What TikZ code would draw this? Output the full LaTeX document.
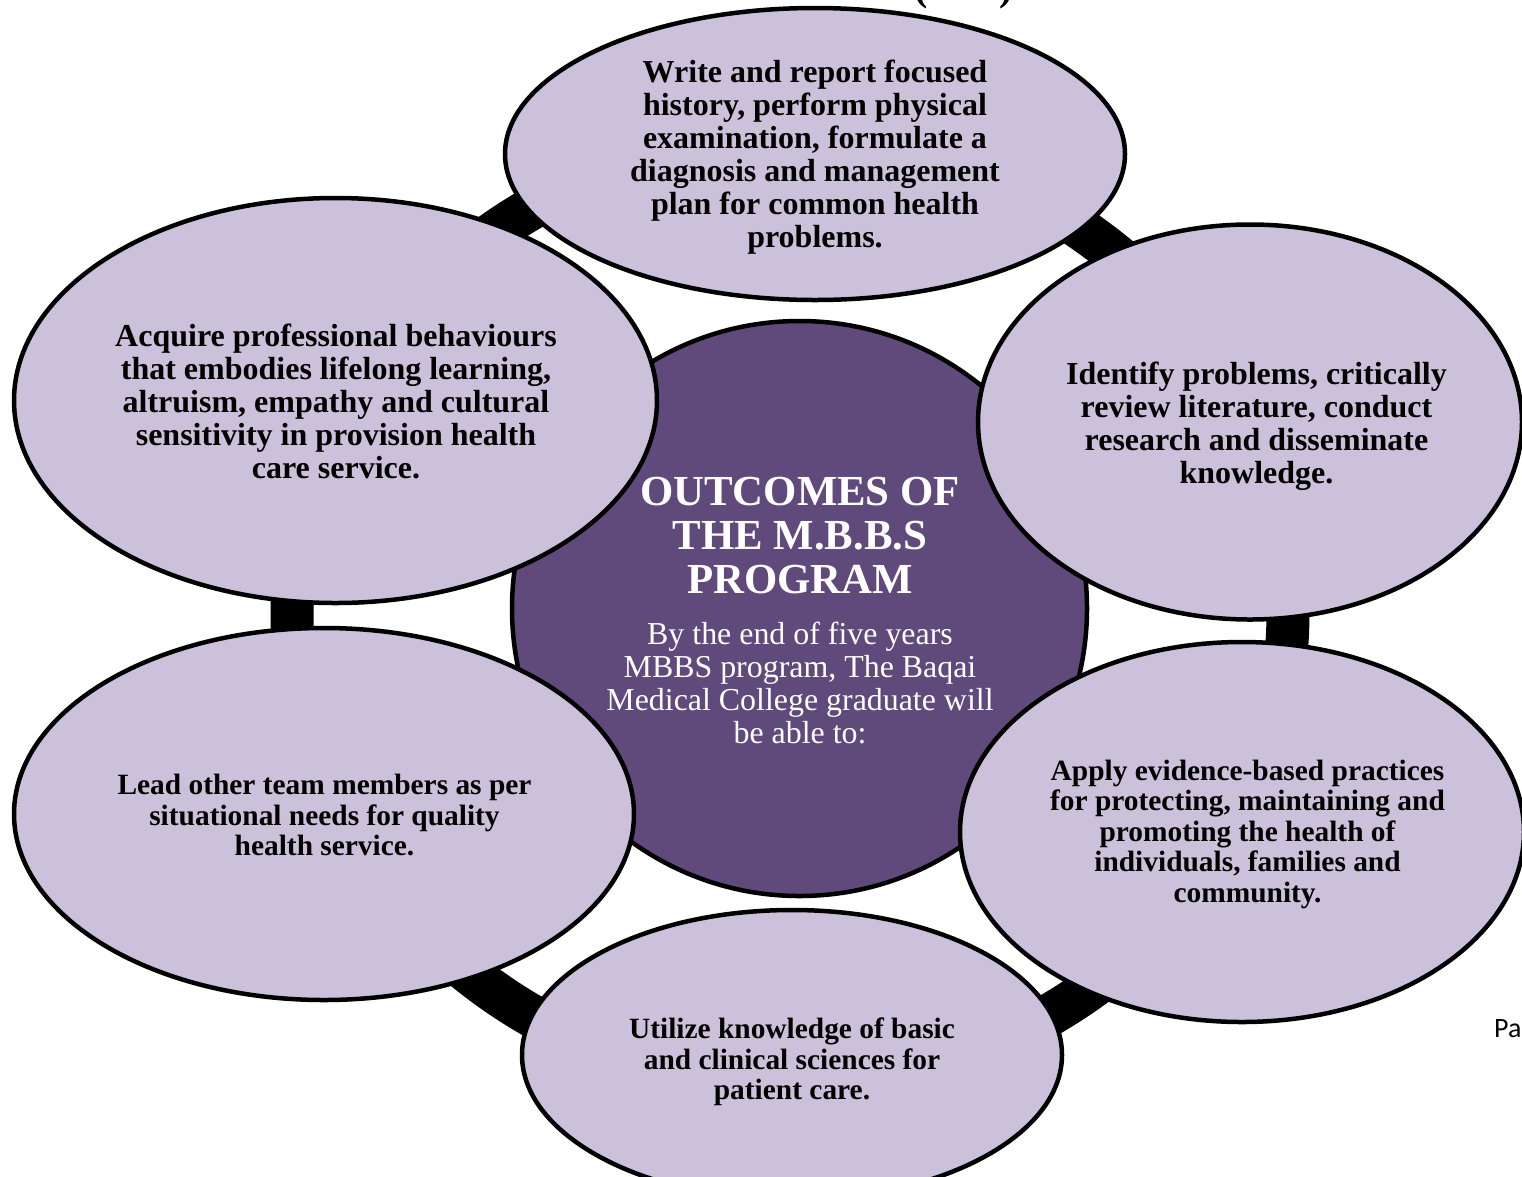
\documentclass[tikz,border=0pt]{standalone}
\usepackage{fontspec}
\setmainfont{Liberation Serif}
\newfontfamily\pagefont{Carlito}
\usetikzlibrary{shapes.geometric}
\definecolor{petalfill}{HTML}{CCC1DA}
\definecolor{corefill}{HTML}{604A7B}
\begin{document}
\begin{tikzpicture}[x=1pt,y=-1pt,
  petal/.style={ellipse, draw=black, line width=4.5pt, fill=petalfill, inner sep=0pt},
  bigtext/.style={align=center, inner sep=0pt, font=\bfseries\fontsize{32}{33}\selectfont},
  smalltext/.style={align=center, inner sep=0pt, font=\bfseries\fontsize{29.4}{30.5}\selectfont},
  ring/.style={draw=black, line width=43pt},
  core/.style={circle, draw=black, line width=4.5pt, fill=corefill, inner sep=0pt, minimum size=575pt},
  titletext/.style={align=center, inner sep=0pt, text=white, font=\bfseries\fontsize{42.8}{44}\selectfont},
  bodytext/.style={align=center, inner sep=0pt, text=white, font=\fontsize{31.9}{33}\selectfont}]
\useasboundingbox (0,0) rectangle (1522,1176);
\clip (0,0) rectangle (1522,1176);

% cycle ring joining the outcome ellipses
\coordinate (ringc) at (790,612);
\draw[ring] (ringc) ellipse[x radius=498pt, y radius=472pt];

% central circle, lying under the outcome ellipses
\node[core] (hub) at (799.5,608.5) {};

% outcome ellipses
\node[petal, minimum width=620pt, minimum height=292pt] (top) at (815,154) {};
\node[petal, minimum width=643pt, minimum height=405pt] (ul) at (335.5,400.5) {};
\node[petal, minimum width=544pt, minimum height=395pt] (ur) at (1250,422) {};
\node[petal, minimum width=620pt, minimum height=372pt] (ll) at (324,814) {};
\node[petal, minimum width=564pt, minimum height=380pt] (lr) at (1242,832) {};
\node[petal, minimum width=540pt, minimum height=290pt] (bot) at (792,1055) {};

% texts
\node[bigtext] (ttop) at (815,157) {Write and report focused\\history, perform physical\\examination, formulate a\\diagnosis and management\\plan for common health\\problems.};
\node[bigtext] (tul) at (336,401) {Acquire professional behaviours\\that embodies lifelong learning,\\altruism, empathy and cultural\\sensitivity in provision health\\care service.};
\node[bigtext] (tur) at (1256.5,426) {Identify problems, critically\\review literature, conduct\\research and disseminate\\knowledge.};
\node[smalltext] (tll) at (324.5,815) {Lead other team members as per\\situational needs for quality\\health service.};
\node[smalltext] (tlr) at (1247.5,834) {Apply evidence-based practices\\for protecting, maintaining and\\promoting the health of\\individuals, families and\\community.};
\node[smalltext] (tbot) at (792,1062) {Utilize knowledge of basic\\and clinical sciences for\\patient care.};

\node[titletext] (title) at (800,536) {OUTCOMES OF\\THE M.B.B.S\\PROGRAM};
\node[bodytext] (body) at (800,683) {By the end of five years\\MBBS program, The Baqai\\Medical College graduate will\\be able to:};

% fragments of surrounding page text
\node[anchor=base, inner sep=0pt, font=\bfseries\fontsize{40}{44}\selectfont] (lpar) at (921,0) {(};
\node[anchor=base, inner sep=0pt, font=\bfseries\fontsize{40}{44}\selectfont] (rpar) at (1006,0) {)};
\node[anchor=base west, inner sep=0pt, font=\pagefont\fontsize{28}{33}\selectfont] (pg) at (1494,1037) {Pa};
\end{tikzpicture}
\end{document}
